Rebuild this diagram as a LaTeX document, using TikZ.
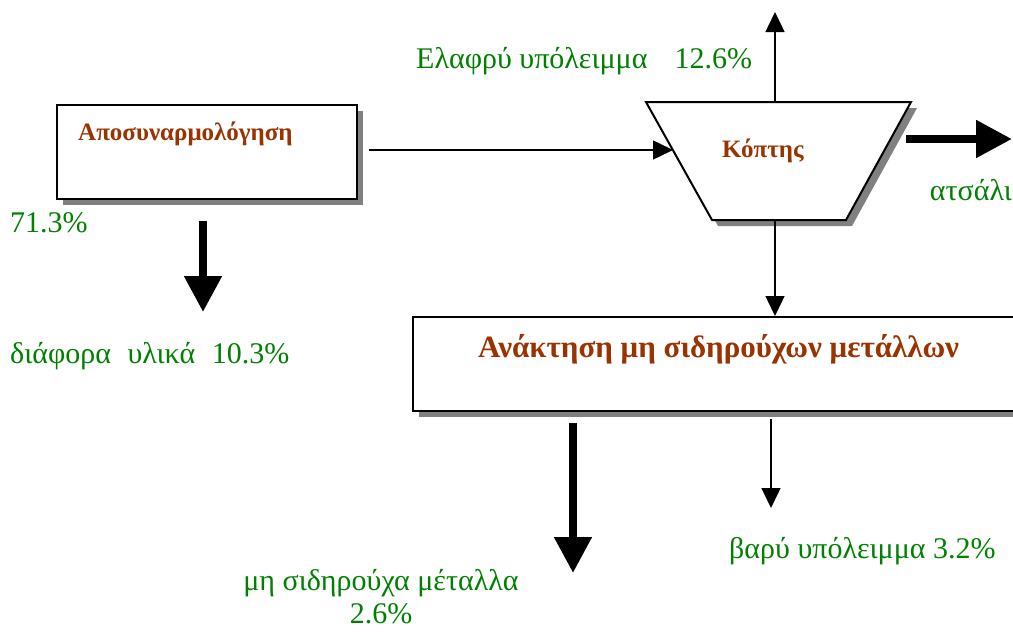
\documentclass[tikz,border=0pt]{standalone}
\usepackage{fontspec}
\setmainfont{Liberation Serif}
\usetikzlibrary{arrows.meta,shadows}
\definecolor{labelgreen}{RGB}{0,128,0}
\definecolor{titlebrown}{RGB}{153,51,0}
\begin{document}
\begin{tikzpicture}[x=1pt,y=-1pt,
    procbox/.style={draw,line width=2pt,fill=white,
      drop shadow={shadow xshift=6pt,shadow yshift=-6pt,fill=gray,opacity=1}},
    title/.style={text=titlebrown,font=\fontsize{25}{29}\selectfont\bfseries,
      inner sep=0pt,anchor=base west},
    flow/.style={text=labelgreen,font=\fontsize{30}{33}\selectfont,
      inner sep=0pt,anchor=base west},
    thinarrow/.style={line width=1.5pt,-{Triangle[width=19pt,length=20pt]}},
    thickarrow/.style={line width=8pt,-{Triangle[width=36pt,length=36pt]}}]
  \clip (0,0) rectangle (1013,632);
  % process boxes
  \node[procbox,minimum width=300pt,minimum height=94pt] (dis) at (207,152) {};
  \node[procbox,minimum width=617pt,minimum height=94pt] (rec) at (721.5,364) {};
  \draw[procbox] (646,102) -- (911,102) -- (846,220) -- (712,220) -- cycle;
  \node[title] (dislabel) at (78,140) {Αποσυναρμολόγηση};
  \node[title] (cutlabel) at (722,157) {Κόπτης};
  \node[title,font=\fontsize{31}{35}\selectfont\bfseries] (reclabel) at (478,357)
    {Ανάκτηση μη σιδηρούχων μετάλλων};
  % free ends of the flows
  \coordinate (cutin) at (673,150);
  \coordinate (cuttop) at (775,102);
  \coordinate (cutbot) at (775,220);
  \coordinate (lightout) at (775,12);
  \coordinate (steelin) at (906,139);
  \coordinate (steelout) at (1012,139);
  \coordinate (misc) at (203,312);
  \coordinate (nonfer) at (573,573);
  \coordinate (heavy) at (771,508);
  % flows
  \draw[thinarrow] ([xshift=11pt,yshift=2pt]dis.east) -- (cutin);
  \draw[thinarrow] (cuttop) -- (lightout);
  \draw[thinarrow] (cutbot) -- (cutbot |- rec.north);
  \draw[thickarrow] (steelin) -- (steelout);
  \draw[thickarrow] ([yshift=-21pt]dis.south -| misc) -- (misc);
  \draw[thickarrow] ([yshift=-11pt]rec.south -| nonfer) -- (nonfer);
  \draw[thinarrow] ([yshift=-7pt]rec.south -| heavy) -- (heavy);
  % labels
  \node[flow] (lightlabel) at (416,68) {Ελαφρύ υπόλειμμα\hspace{0.9em}12.6\%};
  \node[flow,anchor=base east] (steellabel) at (1012,200) {ατσάλι};
  \node[flow] (disshare) at (10,232) {71.3\%};
  \node[flow] (misclabel) at (10,363) {διάφορα\hspace{0.3em} υλικά\hspace{0.3em} 10.3\%};
  \node[flow] (heavylabel) at (729,558) {βαρύ υπόλειμμα 3.2\%};
  \node[flow,anchor=base,align=center] (nonferlabel) at (381,623)
    {μη σιδηρούχα μέταλλα\\2.6\%};
\end{tikzpicture}
\end{document}
